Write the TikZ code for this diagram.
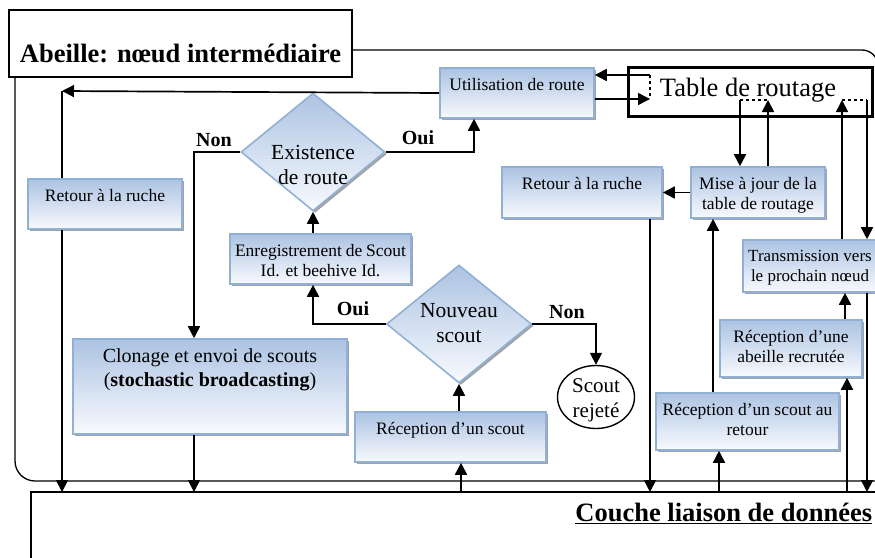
\documentclass[tikz,border=0pt]{standalone}
\usepackage{fontspec}
\setmainfont{Liberation Serif}
\usepackage{tikz}
\usetikzlibrary{arrows.meta}
\usetikzlibrary{shapes.geometric}
\usetikzlibrary{shadows}

\definecolor{boxtop}{RGB}{172,195,226}
\definecolor{boxbot}{RGB}{248,250,254}
\definecolor{boxline}{RGB}{145,176,214}
\newcommand{\boxtxt}[3]{\parbox[c][#2][t]{#1}{\vspace*{5pt}\centering #3}}

\begin{document}
\begin{tikzpicture}[x=1pt, y=-1pt, >={Triangle[length=12pt,width=12pt]}, line width=1.7pt,
  box/.style={rectangle, draw=boxline, line width=1.6pt, top color=boxtop, bottom color=boxbot, inner sep=5pt,
    drop shadow={shadow xshift=2pt, shadow yshift=-2pt, fill=black!45, opacity=.8}, font=\fontsize{17.5}{20}\selectfont},
  decision/.style={diamond, draw=boxline, line width=1.6pt, top color=boxtop, bottom color=boxbot, inner sep=0pt,
    drop shadow={shadow xshift=2pt, shadow yshift=-2pt, fill=black!45, opacity=.8}},
  yesno/.style={font=\fontsize{20}{22}\selectfont\bfseries},
  dtxt/.style={align=center, font=\fontsize{21.5}{25}\selectfont}]
\useasboundingbox (0,0) rectangle (875,557);
% cadre du noeud et couche basse
\draw[line width=1.3pt, rounded corners=16pt] (352,50) -- (878,50) -- (878,120);
\draw[line width=1.3pt, rounded corners=20pt] (885,481) -- (15,481) -- (15,70);
\draw[line width=1.3pt] (31,570) -- (31,492) -- (885,492);
\coordinate (bot) at (0,492);
\node (title) at (180.5,43.5) [draw, line width=1.3pt, fill=white, minimum width=343pt, inner sep=0pt,
  text height=52pt, text depth=15pt, font=\fontsize{26.5}{28}\selectfont\bfseries] {Abeille: n\oe ud interm\'ediaire};
\node (couche) at (873,521) [anchor=base east, inner sep=0pt, font=\fontsize{26.5}{28}\selectfont\bfseries] {\underline{Couche liaison de donn\'ees}};
% boites
\node (util) at (517,93) [box] {\boxtxt{144pt}{40pt}{Utilisation de route}};
\node (retourL) at (105,204) [box] {\boxtxt{144pt}{40pt}{Retour \`a la ruche}};
\node (retourR) at (582,192.5) [box] {\boxtxt{150pt}{41pt}{Retour \`a la ruche}};
\node (maj) at (758,192.5) [box] {\boxtxt{124pt}{41pt}{Mise \`a jour de la\\table de routage}};
\node (trans) at (810,266) [box, font=\fontsize{17}{20}\selectfont] {\boxtxt{124pt}{42pt}{Transmission vers\\le prochain n\oe ud}};
\node (recAb) at (791,348.5) [box] {\boxtxt{132pt}{47pt}{R\'eception d'une\\abeille recrut\'ee}};
\node (recRet) at (747.5,421.5) [box] {\boxtxt{173pt}{47pt}{R\'eception d'un scout au\\retour}};
\node (recSc) at (450.5,437) [box] {\boxtxt{181pt}{40pt}{R\'eception d'un scout}};
\node (enreg) at (320.5,259) [box] {\boxtxt{171pt}{40pt}{Enregistrement de Scout\\Id. et beehive Id.}};
\node (clon) at (210,386.5) [box, font=\fontsize{20}{24}\selectfont] {\boxtxt{264pt}{85pt}{Clonage et envoi de scouts\\(\textbf{stochastic broadcasting})}};
\node (exist) at (313,152) [decision, minimum width=144pt, minimum height=118pt] {};
\node (existT) at (313,165) [dtxt] {Existence\\de route};
\node (nouv) at (459,324) [decision, minimum width=145pt, minimum height=118pt] {};
\node (nouvT) at (459,323) [dtxt] {Nouveau\\scout};
\node (rejet) at (596,397) [ellipse, draw, line width=1.4pt, fill=white, minimum width=77pt, minimum height=63pt, inner sep=0pt] {};
\node (rejetT) at (596,400) [align=center, font=\fontsize{21}{25}\selectfont] {Scout\\rejet\'e};
\node (table) at (750,91.5) [rectangle, draw, line width=3pt, fill=white, minimum width=244pt, minimum height=49pt,
  drop shadow={shadow xshift=2pt, shadow yshift=-2pt, fill=black!45, opacity=.8}] {};
\node (tableT) at (748,90) [font=\fontsize{26.5}{28}\selectfont] {Table de routage};
% fleches
\coordinate (c1) at (62,91);
\draw[->] (util.west) -- (c1);
\draw (c1) -- (c1 |- retourL.north);
\draw[->] (c1 |- retourL.south) -- (c1 |- bot);
\draw[->] (exist.west) -| ([xshift=-16pt]clon.north);
\node (non1) at (214,140) [yesno] {Non};
\draw[->] ([xshift=-16pt]clon.south) -- ([xshift=-16pt]clon.south |- bot);
\draw[->] (exist.east) -| ([xshift=-43pt]util.south);
\node (oui1) at (418,138) [yesno] {Oui};
\draw[->] (enreg.north -| exist.south) -- (exist.south);
\draw[->] (nouv.west) -| (enreg.south -| exist.south);
\node (oui2) at (353,309) [yesno] {Oui};
\draw[->] (nouv.east) -| (rejet.north);
\node (non2) at (567,312) [yesno] {Non};
\draw[->] (recSc.north -| nouv.south) -- (nouv.south);
\draw[->] ([xshift=2pt]nouv.south |- bot) -- ([xshift=2pt]nouv.south |- recSc.south);
\draw[->] ([xshift=68pt]retourR.south) -- ([xshift=68pt]retourR.south |- bot);
\draw[->] (maj.west) -- (maj.west -| retourR.east);
\draw[->] ([xshift=-45pt]maj.south |- recRet.north) -- ([xshift=-45pt]maj.south);
\draw[->] ([xshift=-28.5pt]recRet.south |- bot) -- ([xshift=-28.5pt]recRet.south);
\draw[->] ([xshift=35pt]trans.south |- recAb.north) -- ([xshift=35pt]trans.south);
\draw[->] ([xshift=37pt]trans.south |- bot) -- ([xshift=37pt]trans.south |- recAb.south);
% table de routage
\coordinate (t1) at (650,75);
\coordinate (t2) at (650,99);
\draw[->] (t1) -- (t1 -| util.east);
\draw[->] (t2 -| util.east) -- (t2);
\draw[dashed] (t1) -- (t2);
\coordinate (t3) at (740,100);
\coordinate (t4) at (768,100);
\draw[->] (t3) -- (t3 |- maj.north);
\draw[->] (t4 |- maj.north) -- (t4);
\draw[dashed] (t3) -- (t4);
\coordinate (t5) at (842,100);
\coordinate (t6) at (867,100);
\draw[->] (t5 |- trans.north) -- (t5);
\draw[->] (t6) -- (t6 |- trans.north);
\draw[dashed] (t5) -- (t6);
\draw[->] (t6 |- trans.south) -- (t6 |- bot);
\end{tikzpicture}
\end{document}
